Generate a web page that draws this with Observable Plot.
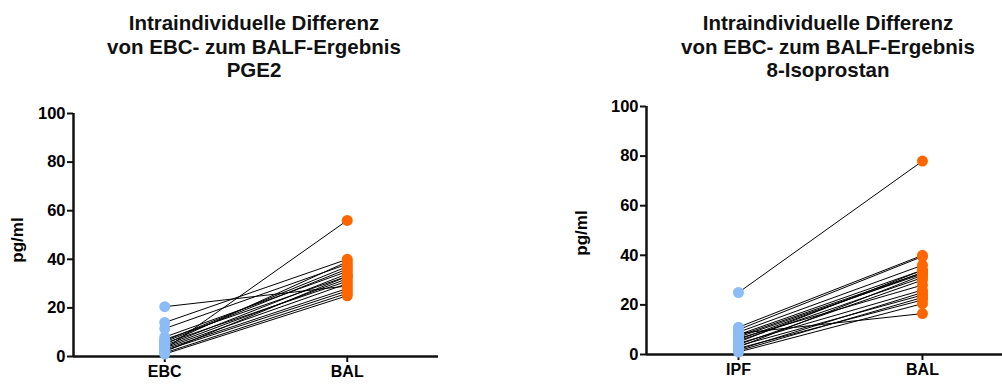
<!DOCTYPE html>
<html>
<head>
<meta charset="utf-8">
<script src="https://cdn.jsdelivr.net/npm/d3@7"></script>
<script src="https://cdn.jsdelivr.net/npm/@observablehq/plot@0.6"></script>
<style>
  body { margin: 0; background: #fff; }
  #wrap { position: relative; width: 1002px; height: 386px; overflow: hidden; font-family: Arial, "Liberation Sans", sans-serif; }
  .title { position: absolute; top: 11px; width: 440px; text-align: center; font-weight: bold; font-size: 20.5px; line-height: 23.5px; color: #111; }
  .ylab { position: absolute; font-weight: bold; font-size: 17px; color: #000; transform: translate(-50%, -50%) rotate(-90deg); white-space: nowrap; }
  .panel { position: absolute; top: 0; }
  .panel text { font-weight: 700 !important; font-family: Arial, "Liberation Sans", sans-serif !important; fill: #000; }
</style>
</head>
<body>
<div id="wrap"></div>
<script>
// ---- data ----
const titleLines1 = ["Intraindividuelle Differenz", "von EBC- zum BALF-Ergebnis", "PGE2"];
const titleLines2 = ["Intraindividuelle Differenz", "von EBC- zum BALF-Ergebnis", "8-Isoprostan"];
const yLabel = "pg/ml";
const yTicks = [0, 20, 40, 60, 80, 100];

const categories1 = ["EBC", "BAL"];
const pge2EBC = [20.5, 14, 11.5, 8, 7, 6.5, 6, 5.5, 5, 4.5, 4, 3.5, 3, 3, 2.5, 2, 1.5, 1];
const pge2BAL = [29, 40, 38, 35, 33, 37, 36, 31, 39, 34, 32, 30, 56, 28, 27, 33, 26, 25];

const categories2 = ["IPF", "BAL"];
const isoIPF = [25, 11, 10, 9, 8.5, 8, 7.5, 7, 6.5, 6, 5.5, 5, 4.5, 4, 3.5, 3, 2.5, 2, 1.5, 1];
const isoBAL = [78, 40, 39.5, 36, 16.5, 34, 33, 32.5, 28, 33, 31, 34, 26, 30, 24, 32, 22, 25, 23, 20.5];

const colorA = "#8cbcf5";
const colorB = "#ff6600";

function panel(cats, a, b, opts) {
  const pairs = a.map((v, i) => ({a: v, b: b[i]}));
  const pts = [
    ...a.map(v => ({x: 0, y: v, g: cats[0]})),
    ...b.map(v => ({x: 1, y: v, g: cats[1]}))
  ];
  return Plot.plot({
    width: 501,
    height: 386,
    marginLeft: opts.marginLeft,
    marginRight: opts.marginRight,
    marginTop: opts.marginTop,
    marginBottom: opts.marginBottom,
    style: {fontFamily: "Arial, 'Liberation Sans', sans-serif", fontWeight: "bold", fontSize: "16px", color: "#000", background: "transparent", overflow: "visible"},
    x: {domain: opts.xDomain, axis: null},
    y: {domain: [0, 100], axis: null},
    color: {domain: cats, range: [colorA, colorB]},
    marks: [
      Plot.axisY({ticks: yTicks, tickSize: 6, tickPadding: 2, stroke: "#111", strokeWidth: 2, strokeOpacity: 1, fontSize: 16.5, fontWeight: "bold", fill: "#000", label: null}),
      Plot.axisX({ticks: [0, 1], tickFormat: i => cats[i], tickSize: 6, tickPadding: 3, stroke: "#111", strokeWidth: 2, strokeOpacity: 1, fontSize: 16, fontWeight: "bold", fill: "#000", label: null}),
      Plot.ruleX([-0.5], {y1: 0, y2: 100, stroke: "#111", strokeWidth: 2.5}),
      Plot.ruleY([0], {stroke: "#111", strokeWidth: 2.5}),
      Plot.link(pairs, {x1: () => 0, x2: () => 1, y1: "a", y2: "b", stroke: "#000", strokeWidth: 1}),
      Plot.dot(pts, {x: "x", y: "y", fill: "g", r: 5.5, stroke: null})
    ]
  });
}

const wrap = document.getElementById("wrap");

const p1 = panel(categories1, pge2EBC, pge2BAL, {marginLeft: 73, marginRight: 63, marginTop: 113, marginBottom: 30, xDomain: [-0.5, 1.5]});
p1.classList.add("panel");
p1.style.left = "0px";
wrap.appendChild(p1);

const p2 = panel(categories2, isoIPF, isoBAL, {marginLeft: 145, marginRight: 0, marginTop: 106, marginBottom: 32, xDomain: [-0.5, 1.435]});
p2.classList.add("panel");
p2.style.left = "501px";
wrap.appendChild(p2);

function addTitle(lines, cx) {
  const d = document.createElement("div");
  d.className = "title";
  d.style.left = (cx - 220) + "px";
  d.innerHTML = lines.map(s => s.replace(/&/g, "&amp;")).join("<br>");
  wrap.appendChild(d);
}
addTitle(titleLines1, 254);
addTitle(titleLines2, 828);

function addYLabel(x, y) {
  const d = document.createElement("div");
  d.className = "ylab";
  d.style.left = x + "px";
  d.style.top = y + "px";
  d.textContent = yLabel;
  wrap.appendChild(d);
}
addYLabel(18, 240);
addYLabel(582, 233);
</script>
</body>
</html>
